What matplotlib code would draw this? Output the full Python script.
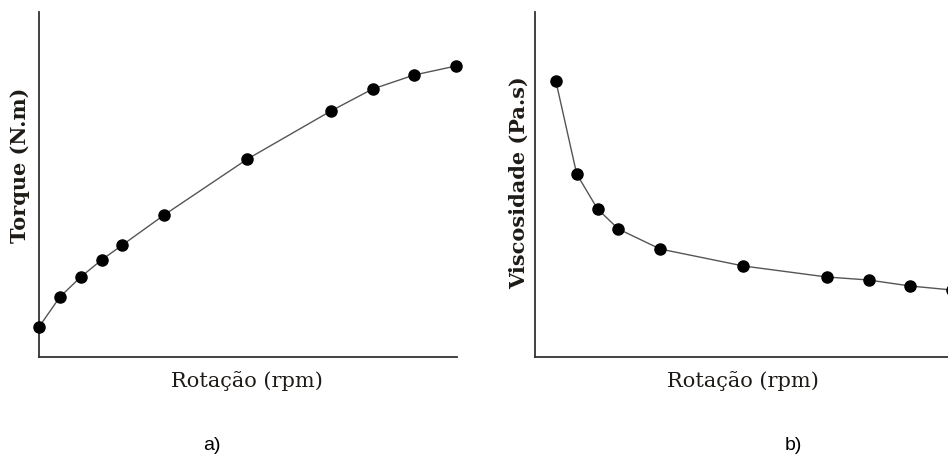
import matplotlib
matplotlib.use("Agg")
import matplotlib.pyplot as plt

# rotation values (arbitrary units, no ticks in the original)
rot_a = [0, 20, 40, 60, 80, 120, 200, 280, 320, 360, 400]
torque = [30, 60, 80, 97, 112, 142, 198, 246, 268, 282, 291]

rot_b = [20, 40, 60, 80, 120, 200, 280, 320, 360, 400]
visc = [276, 183, 148, 128, 108, 91, 80, 77, 71, 67]

W, H = 948, 457
fig = plt.figure(figsize=(W / 100, H / 100), dpi=100)

serif = "DejaVu Serif"
txt_col = "#1e1a16"


def panel(left_px, xs, ys, ylabel, ylab_x, ylab_y):
    ax = fig.add_axes([left_px / W, 100 / H, 418 / W, 345 / H])
    ax.plot(xs, ys, "-", color="#555555", lw=1.0, zorder=2, clip_on=False)
    ax.plot(xs, ys, "o", color="black", ms=8, zorder=3, clip_on=False)
    ax.set_xlim(0, 401)
    ax.set_ylim(0, 345)
    for s in ["top", "right"]:
        ax.spines[s].set_visible(False)
    for s in ["left", "bottom"]:
        ax.spines[s].set_color("#333333")
        ax.spines[s].set_linewidth(1.3)
    ax.set_xticks([])
    ax.set_yticks([])
    fig.text(ylab_x / W, 1 - ylab_y / H, ylabel, rotation=90, ha="center",
             va="center", family=serif, fontsize=15, fontweight="bold",
             color=txt_col)
    fig.text((left_px + 208) / W, 1 - 381 / H, "Rotação (rpm)", ha="center",
             va="center", family=serif, fontsize=15, color=txt_col)
    return ax


panel(39, rot_a, torque, "Torque (N.m)", 20, 165)
panel(535, rot_b, visc, "Viscosidade (Pa.s)", 519, 183)

fig.text(212 / W, 1 - 445 / H, "a)", ha="center", va="center",
         family="Liberation Sans", fontsize=14, color="black")
fig.text(793 / W, 1 - 445 / H, "b)", ha="center", va="center",
         family="Liberation Sans", fontsize=14, color="black")

fig.savefig("out.png", dpi=100)
